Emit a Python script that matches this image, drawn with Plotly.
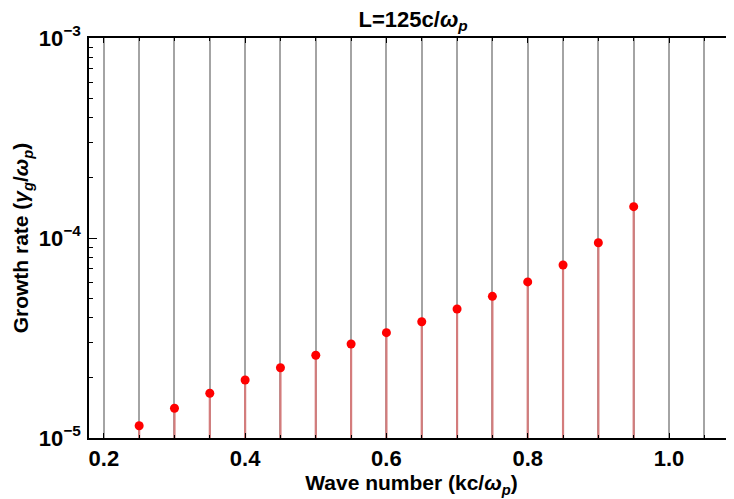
import plotly.graph_objects as go

# Data
wave_number = [0.25, 0.30, 0.35, 0.40, 0.45, 0.50, 0.55, 0.60, 0.65, 0.70, 0.75, 0.80, 0.85, 0.90, 0.95]
growth_rate = [1.152e-5, 1.408e-5, 1.673e-5, 1.95e-5, 2.246e-5, 2.592e-5, 2.951e-5, 3.362e-5,
               3.815e-5, 4.416e-5, 5.11e-5, 6.03e-5, 7.33e-5, 9.47e-5, 1.434e-4]
stem_base = 1e-5
y_tickvals = [1e-5, 1e-4, 1e-3]
y_ticktext = ["10<sup>−5</sup>", "10<sup>−4</sup>", "10<sup>−3</sup>"]
y_minor = [m * 10 ** e for e in (-5, -4) for m in range(2, 10)]

FONT = "Arial, Liberation Sans, sans-serif"

stem_x, stem_y = [], []
for k, g in zip(wave_number, growth_rate):
    stem_x += [k, k, None]
    stem_y += [stem_base, g, None]

fig = go.Figure()
fig.add_trace(go.Scatter(x=stem_x, y=stem_y, mode="lines",
                         line=dict(color="#d47c7c", width=2.2), hoverinfo="skip", showlegend=False))
fig.add_trace(go.Scatter(x=wave_number, y=growth_rate, mode="markers",
                         marker=dict(color="#ff0000", size=9), showlegend=False))

# the page body adds an 8px offset, so the figure is sized to 726x491
fig.update_layout(
    width=726, height=491,
    margin=dict(l=81, r=0, t=30, b=61),
    paper_bgcolor="white", plot_bgcolor="white",
    font=dict(family=FONT, color="black"),
    title=dict(text="<b>L=125c/<i>ω</i><sub><i>p</i></sub></b>", x=0.558, xanchor="center",
               y=0.978, yanchor="middle", font=dict(size=22, family=FONT)),
)
fig.update_xaxes(
    range=[0.179, 1.092], tick0=0.2, dtick=0.2, tickformat=".1f",
    showgrid=True, gridcolor="#a4a4a4", gridwidth=1.6,
    minor=dict(dtick=0.05, tick0=0.2, showgrid=True, gridcolor="#a4a4a4", gridwidth=1.6,
               ticks="inside", ticklen=3, tickcolor="black"),
    ticks="inside", ticklen=5, tickcolor="black",
    showline=True, linecolor="black", linewidth=1.5, mirror="ticks",
    tickfont=dict(size=22, family=FONT, weight="bold"), ticklabelstandoff=0,
    title=dict(text="<b>Wave number (kc/<i>ω</i><sub><i>p</i></sub>)</b>", font=dict(size=21, family=FONT),
               standoff=0),
    zeroline=False, automargin=False,
)
fig.update_yaxes(
    type="log", range=[-5, -3], tickmode="array", tickvals=y_tickvals, ticktext=y_ticktext,
    showgrid=False, ticks="inside", ticklen=8, tickcolor="black",
    minor=dict(tickmode="array", tickvals=y_minor, ticks="inside", ticklen=4, tickcolor="black", showgrid=False),
    showline=True, linecolor="black", linewidth=1.5, mirror="ticks",
    tickfont=dict(size=22, family=FONT, weight="bold"), ticklabelstandoff=2,
    title=dict(text="<b>Growth rate (<i>γ</i><sub><i>g</i></sub>/<i>ω</i><sub><i>p</i></sub>)</b>",
               font=dict(size=21, family=FONT), standoff=4),
    zeroline=False, automargin=False,
)
fig.write_html("out.html")
